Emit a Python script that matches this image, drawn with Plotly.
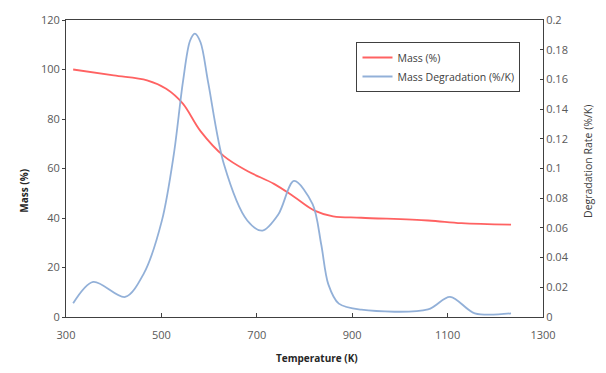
import plotly.graph_objects as go

# Thermogravimetric data
temp_mass = [315, 400, 470, 510, 545, 582, 631, 680, 736, 778, 821, 860, 919, 1059, 1129, 1233]
mass_pct = [100, 97.6, 95.6, 92.2, 86.2, 75.1, 65, 59, 53.8, 48.6, 43, 40.7, 40.1, 39, 37.9, 37.3]

temp_rate = [315, 357, 424, 463, 501, 526, 545, 560, 570, 582, 598, 631, 680, 712, 745, 778,
             817, 835, 850, 872, 919, 1059, 1105, 1157, 1233]
rate = [0.0092, 0.0236, 0.0135, 0.0292, 0.0649, 0.1095, 0.158, 0.186, 0.1908, 0.185,
        0.158, 0.103, 0.065, 0.0582, 0.069, 0.0916, 0.076, 0.049, 0.022, 0.009,
        0.0049, 0.0051, 0.0136, 0.0025, 0.0025]

x_ticks = [300, 500, 700, 900, 1100, 1300]
y_ticks = [0, 20, 40, 60, 80, 100, 120]
y2_ticks = [0, 0.02, 0.04, 0.06, 0.08, 0.1, 0.12, 0.14, 0.16, 0.18, 0.2]
y2_labels = ["0", "0.02", "0.04", "0.06", "0.08", "0.1", "0.12", "0.14", "0.16", "0.18", "0.2"]

FONT = "Open Sans, Liberation Sans, sans-serif"
AXIS = "#404040"
TICKFONT = dict(family=FONT, size=11, color="#595959")

fig = go.Figure()
fig.add_trace(go.Scatter(x=temp_mass, y=mass_pct, mode="lines", name="Mass (%)",
                         line=dict(color="rgba(255,70,70,0.85)", width=1.8, shape="spline", smoothing=1.0)))
fig.add_trace(go.Scatter(x=temp_rate, y=rate, mode="lines", name="Mass Degradation (%/K)",
                         yaxis="y2",
                         line=dict(color="rgba(140,172,214,0.95)", width=1.8, shape="spline", smoothing=0.9)))

fig.update_layout(
    width=606, height=373,
    margin=dict(l=66, r=63, t=18, b=56),
    paper_bgcolor="white", plot_bgcolor="white",
    showlegend=True,
    legend=dict(x=0.609, y=0.926, xanchor="left", yanchor="top",
                bordercolor=AXIS, borderwidth=1, bgcolor="white",
                font=dict(family=FONT, size=10.5, color="#404040"),
                itemwidth=30, tracegroupgap=2),
    xaxis=dict(range=[300, 1300], tickvals=x_ticks, showgrid=False, zeroline=False,
               showline=True, linecolor=AXIS, linewidth=1, mirror=True,
               ticks="inside", ticklen=4, tickcolor=AXIS, tickfont=TICKFONT,
               ticklabelstandoff=8),
    yaxis=dict(range=[0, 120], tickvals=y_ticks, showgrid=False, zeroline=False,
               showline=True, linecolor=AXIS, linewidth=1,
               ticks="outside", ticklen=3, tickcolor=AXIS, tickfont=TICKFONT),
    yaxis2=dict(range=[0, 0.2], tickvals=y2_ticks, ticktext=y2_labels, overlaying="y",
                side="right", showgrid=False, zeroline=False,
                showline=True, linecolor=AXIS, linewidth=1,
                ticks="inside", ticklen=3, tickcolor=AXIS, tickfont=TICKFONT),
    annotations=[
        dict(text="<b>Mass (%)</b>", xref="paper", yref="paper", x=-0.107, y=0.425,
             textangle=-90, showarrow=False, font=dict(family=FONT, size=10, color="#262626")),
        dict(text="Degradation Rate (%/K)", xref="paper", yref="paper", x=1.113, y=0.525,
             textangle=-90, showarrow=False, font=dict(family=FONT, size=10.5, color="#404040")),
        dict(text="<b>Temperature (K)</b>", xref="paper", yref="paper", x=0.526, y=-0.167,
             showarrow=False, font=dict(family=FONT, size=10, color="#262626")),
    ],
)

fig.write_html("out.html")
